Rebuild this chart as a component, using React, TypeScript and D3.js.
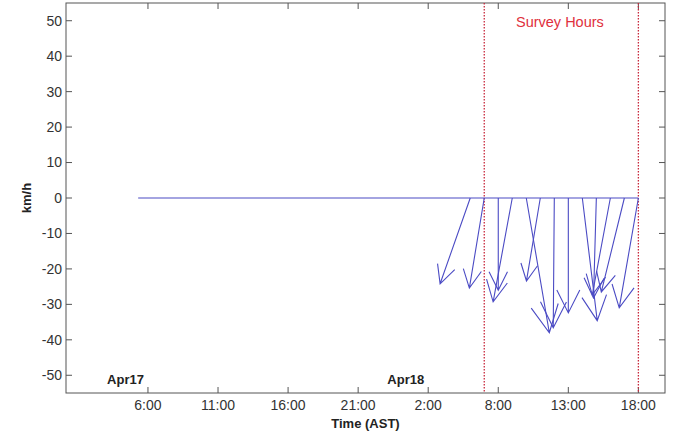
import React, { useEffect, useRef } from "react";
import * as d3 from "d3";

// hours since Apr17 00:00
const tickHours = [6, 11, 16, 21, 26, 31, 36, 41];
const tickLabels = ["6:00", "11:00", "16:00", "21:00", "2:00", "8:00", "13:00", "18:00"];
const yTicks = [50, 40, 30, 20, 10, 0, -10, -20, -30, -40, -50];

const recordStart = 5.3;
const arrowHours = [29, 30, 31, 32, 33, 34, 35, 36, 37, 38, 39, 40, 41];
// wind components (km/h)
const uValues = [-8.5, -4.2, 0, -5.4, 6.5, -3.9, -0.3, 0, 4.2, -0.8, -5.1, -6.5, -5.4];
const vValues = [-24.2, -25.4, -26, -29.3, -38, -23.4, -36.6, -32.4, -34.6, -28.2, -27.3, -26.5, -31];

const surveyHours = [30, 41];
const dayLabels = [
  { text: "Apr17", hour: 4.4 },
  { text: "Apr18", hour: 24.4 },
];

const App = () => {
  const svgRef = useRef<SVGSVGElement>(null);

  useEffect(() => {
    const width = 677;
    const height = 434;
    const margin = { top: 3, right: 12, bottom: 41, left: 66 };
    const font = "'Liberation Sans', Arial, sans-serif";

    const svg = d3.select(svgRef.current).attr("width", width).attr("height", height);
    svg.selectAll("*").remove();

    const x = d3.scaleLinear().domain([0.15, 42.9]).range([margin.left, width - margin.right]);
    const y = d3.scaleLinear().domain([-55, 55]).range([height - margin.bottom, margin.top]);
    const k = y(0) - y(1); // px per km/h

    const axisColor = "#555";
    const [x0, x1] = x.range();
    const [y0, y1] = y.range();
    const tickLen = 6;

    // box
    svg
      .append("rect")
      .attr("x", x0)
      .attr("y", y1)
      .attr("width", x1 - x0)
      .attr("height", y0 - y1)
      .attr("fill", "none")
      .attr("stroke", axisColor)
      .attr("stroke-width", 1);

    // x ticks (inward, bottom and top)
    const xt = svg.append("g").attr("stroke", axisColor).attr("stroke-width", 1);
    tickHours.forEach((h) => {
      xt.append("line").attr("x1", x(h)).attr("x2", x(h)).attr("y1", y0).attr("y2", y0 - tickLen);
      xt.append("line").attr("x1", x(h)).attr("x2", x(h)).attr("y1", y1).attr("y2", y1 + tickLen);
    });
    svg
      .append("g")
      .selectAll("text")
      .data(tickHours)
      .enter()
      .append("text")
      .attr("x", (d) => x(d))
      .attr("y", y0 + 17)
      .attr("text-anchor", "middle")
      .attr("font-family", font)
      .attr("font-size", 14)
      .attr("fill", "#333")
      .text((d, i) => tickLabels[i]);

    // y ticks (inward, left and right)
    const yt = svg.append("g").attr("stroke", axisColor).attr("stroke-width", 1);
    yTicks.forEach((v) => {
      yt.append("line").attr("x1", x0).attr("x2", x0 + tickLen).attr("y1", y(v)).attr("y2", y(v));
      yt.append("line").attr("x1", x1).attr("x2", x1 - tickLen).attr("y1", y(v)).attr("y2", y(v));
    });
    svg
      .append("g")
      .selectAll("text")
      .data(yTicks)
      .enter()
      .append("text")
      .attr("x", x0 - 4)
      .attr("y", (d) => y(d))
      .attr("dy", "0.35em")
      .attr("text-anchor", "end")
      .attr("font-family", font)
      .attr("font-size", 14)
      .attr("fill", "#333")
      .text((d) => d);

    // axis titles
    svg
      .append("text")
      .attr("x", (x0 + x1) / 2)
      .attr("y", 428)
      .attr("text-anchor", "middle")
      .attr("font-family", font)
      .attr("font-size", 13)
      .attr("font-weight", "bold")
      .attr("fill", "#222")
      .text("Time (AST)");
    svg
      .append("text")
      .attr("transform", `translate(31, ${y(0)}) rotate(-90)`)
      .attr("text-anchor", "middle")
      .attr("font-family", font)
      .attr("font-size", 13)
      .attr("font-weight", "bold")
      .attr("fill", "#222")
      .text("km/h");

    // day labels
    dayLabels.forEach((d) => {
      svg
        .append("text")
        .attr("x", x(d.hour))
        .attr("y", y(-51) + 5)
        .attr("text-anchor", "middle")
        .attr("font-family", font)
        .attr("font-size", 13)
        .attr("font-weight", "bold")
        .attr("fill", "#222")
        .text(d.text);
    });

    // survey hours
    surveyHours.forEach((h) => {
      svg
        .append("line")
        .attr("x1", x(h))
        .attr("x2", x(h))
        .attr("y1", y1)
        .attr("y2", y0)
        .attr("stroke", "#c8283c")
        .attr("stroke-width", 1.3)
        .attr("stroke-dasharray", "1.5,1.5");
    });
    svg
      .append("text")
      .attr("x", x(35.4))
      .attr("y", 27)
      .attr("text-anchor", "middle")
      .attr("font-family", font)
      .attr("font-size", 14.5)
      .attr("fill", "#e0303c")
      .text("Survey Hours");

    // stick plot
    const blue = "#4b4bc4";
    svg
      .append("line")
      .attr("x1", x(recordStart))
      .attr("x2", x(arrowHours[arrowHours.length - 1]))
      .attr("y1", y(0))
      .attr("y2", y(0))
      .attr("stroke", blue)
      .attr("stroke-width", 1.1);

    const arrows = svg.append("g").attr("stroke", blue).attr("stroke-width", 1.1).attr("fill", "none");
    arrowHours.forEach((h, i) => {
      const sx = x(h);
      const sy = y(0);
      const dx = uValues[i] * k;
      const dy = -vValues[i] * k;
      const tx = sx + dx;
      const ty = sy + dy;
      const len = Math.hypot(dx, dy);
      const ux = dx / len;
      const uy = dy / len;
      const back = 0.2 * len;
      const side = 0.1 * len;
      const bx = tx - ux * back;
      const by = ty - uy * back;
      const path = d3.path();
      path.moveTo(sx, sy);
      path.lineTo(tx, ty);
      path.moveTo(bx - uy * side, by + ux * side);
      path.lineTo(tx, ty);
      path.lineTo(bx + uy * side, by - ux * side);
      arrows.append("path").attr("d", path.toString());
    });
  }, []);

  return <svg ref={svgRef} style={{ position: "absolute", left: 0, top: 0 }}></svg>;
};

export default App;
